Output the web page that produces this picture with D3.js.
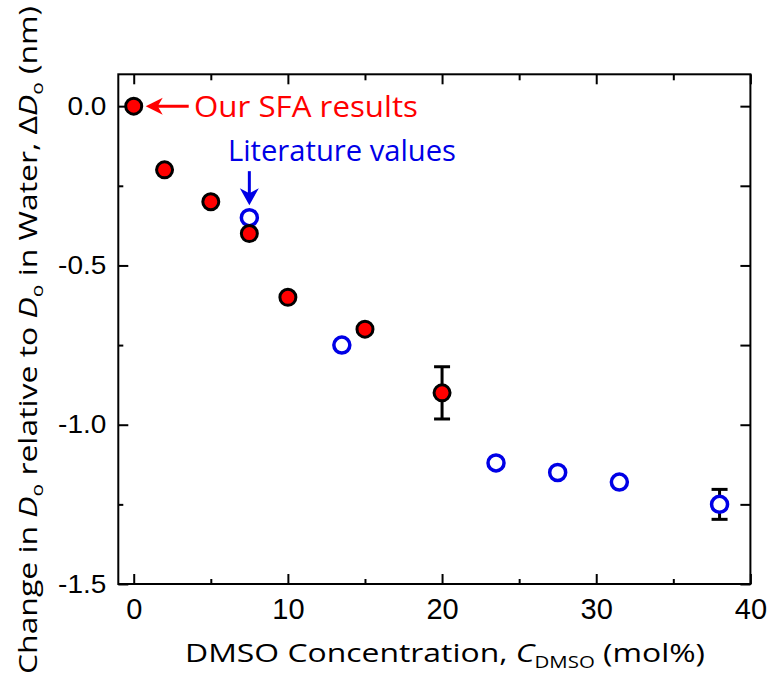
<!DOCTYPE html>
<html><head><meta charset="utf-8">
<script src="https://cdn.jsdelivr.net/npm/d3@7"></script>
<style>body{margin:0;background:#fff}</style>
</head><body><svg id="c" width="773" height="682"></svg>
<script>
// SFA results (filled red)
const sfaX = [0, 2, 5, 7.5, 10, 15, 20];
const sfaY = [0.0, -0.2, -0.3, -0.4, -0.6, -0.7, -0.9];
const sfaErr = [0, 0, 0, 0, 0, 0, 0.082];
// Literature values (open blue)
const litX = [7.5, 13.5, 23.5, 27.5, 31.5, 38];
const litY = [-0.35, -0.75, -1.12, -1.15, -1.18, -1.25];
const litErr = [0, 0, 0, 0, 0, 0.047];
// ticks
const xMajor = [0, 10, 20, 30, 40];
const xMinor = [5, 15, 25, 35];
const yMajor = [0.0, -0.5, -1.0, -1.5];
const yMinor = [-0.25, -0.75, -1.25];

const svg = d3.select("#c");
const L = 118.3, R = 750.4, T = 74.3, B = 584;
const x = d3.scaleLinear().domain([-1, 40]).range([L, R]);
const y = d3.scaleLinear().domain([-1.5, 0.1]).range([B, T]);

const tickFont = "'Liberation Sans', Arial, sans-serif";
const titleFont = "'Open Sans', 'Noto Sans', sans-serif";

function styleAxis(g) {
  g.select(".domain").remove();
  g.selectAll(".tick line").attr("stroke", "#000").attr("stroke-width", 2);
}
// bottom
svg.append("g").attr("transform", `translate(0,${B})`)
  .call(d3.axisBottom(x).tickValues(xMajor).tickSize(-10).tickPadding(14).tickFormat(d => d))
  .call(styleAxis)
  .call(g => g.selectAll("text").attr("font-family", tickFont).attr("font-size", 29).attr("fill", "#000"));
svg.append("g").attr("transform", `translate(0,${B})`)
  .call(d3.axisBottom(x).tickValues(xMinor).tickSize(-5).tickFormat(""))
  .call(styleAxis);
// top
svg.append("g").attr("transform", `translate(0,${T})`)
  .call(d3.axisTop(x).tickValues(xMajor).tickSize(-10).tickFormat(""))
  .call(styleAxis);
svg.append("g").attr("transform", `translate(0,${T})`)
  .call(d3.axisTop(x).tickValues(xMinor).tickSize(-6).tickFormat(""))
  .call(styleAxis);
// left
const sx = 1.12;
svg.append("g").attr("transform", `translate(${L},0)`)
  .call(d3.axisLeft(y).tickValues(yMajor).tickSize(-10).tickPadding(12).tickFormat(d => d.toFixed(1)))
  .call(styleAxis)
  .call(g => g.selectAll("text").attr("font-family", tickFont).attr("font-size", 25).attr("fill", "#000")
    .attr("x", -12 / sx).attr("transform", `scale(${sx},1)`));
svg.append("g").attr("transform", `translate(${L},0)`)
  .call(d3.axisLeft(y).tickValues(yMinor).tickSize(-5).tickFormat(""))
  .call(styleAxis);
// right
svg.append("g").attr("transform", `translate(${R},0)`)
  .call(d3.axisRight(y).tickValues(yMajor.concat(yMinor)).tickSize(-10).tickFormat(""))
  .call(styleAxis);

// frame
svg.append("rect").attr("x", L).attr("y", T).attr("width", R - L).attr("height", B - T)
  .attr("fill", "none").attr("stroke", "#000").attr("stroke-width", 2);

// error bars
const sfa = sfaX.map((v, i) => ({x: v, y: sfaY[i], e: sfaErr[i]}));
const lit = litX.map((v, i) => ({x: v, y: litY[i], e: litErr[i]}));
const errG = svg.append("g").attr("stroke", "#000").attr("stroke-width", 3);
[...sfa, ...lit].filter(d => d.e > 0).forEach(d => {
  errG.append("line").attr("x1", x(d.x)).attr("x2", x(d.x)).attr("y1", y(d.y + d.e)).attr("y2", y(d.y - d.e));
  errG.append("line").attr("x1", x(d.x) - 8).attr("x2", x(d.x) + 8).attr("y1", y(d.y + d.e)).attr("y2", y(d.y + d.e));
  errG.append("line").attr("x1", x(d.x) - 8).attr("x2", x(d.x) + 8).attr("y1", y(d.y - d.e)).attr("y2", y(d.y - d.e));
});

// literature points
svg.append("g").selectAll("circle").data(lit).join("circle")
  .attr("cx", d => x(d.x)).attr("cy", d => y(d.y)).attr("r", 8)
  .attr("fill", "#fff").attr("stroke", "#0000e6").attr("stroke-width", 3.5);
// SFA points
svg.append("g").selectAll("circle").data(sfa).join("circle")
  .attr("cx", d => x(d.x)).attr("cy", d => y(d.y)).attr("r", 8)
  .attr("fill", "#ff0000").attr("stroke", "#000").attr("stroke-width", 3);

// annotations
const red = "#ff0000", blue = "#0000e6";
const ax0 = x(0) + 12, ay0 = y(0);
svg.append("line").attr("x1", ax0 + 8).attr("x2", ax0 + 43).attr("y1", ay0).attr("y2", ay0)
  .attr("stroke", red).attr("stroke-width", 3);
svg.append("path").attr("d", `M${ax0},${ay0} L${ax0 + 17},${ay0 - 8.5} L${ax0 + 12},${ay0} L${ax0 + 17},${ay0 + 8.5} Z`).attr("fill", red);
svg.append("text").attr("x", 194).attr("y", 117).attr("font-family", titleFont).attr("font-size", 29)
  .attr("fill", red).attr("textLength", 224).attr("lengthAdjust", "spacingAndGlyphs").text("Our SFA results");

const bx = x(7.5), by = y(-0.35) - 12.5;
svg.append("line").attr("x1", bx).attr("x2", bx).attr("y1", by - 34).attr("y2", by - 8)
  .attr("stroke", blue).attr("stroke-width", 3);
svg.append("path").attr("d", `M${bx},${by} L${bx - 9.5},${by - 17} L${bx},${by - 12} L${bx + 9.5},${by - 17} Z`).attr("fill", blue);
svg.append("text").attr("x", 228).attr("y", 161).attr("font-family", titleFont).attr("font-size", 29)
  .attr("fill", blue).attr("textLength", 228).attr("lengthAdjust", "spacingAndGlyphs").text("Literature values");

// x title
const xt = svg.append("text").attr("x", 185).attr("y", 662).attr("font-family", titleFont)
  .attr("font-size", 25).attr("fill", "#000").attr("textLength", 520).attr("lengthAdjust", "spacingAndGlyphs");
xt.append("tspan").text("DMSO Concentration, ");
xt.append("tspan").attr("font-style", "italic").text("C");
xt.append("tspan").attr("font-size", 16).attr("dy", 6).text("DMSO");
xt.append("tspan").attr("dy", -6).text(" (mol%)");

// y title
const yt = svg.append("text").attr("transform", "translate(37,340) rotate(-90)").attr("text-anchor", "middle")
  .attr("font-family", titleFont).attr("font-size", 26).attr("fill", "#000")
  .attr("textLength", 668).attr("lengthAdjust", "spacingAndGlyphs");
yt.append("tspan").text("Change in ");
yt.append("tspan").attr("font-style", "italic").text("D");
yt.append("tspan").attr("font-size", 17).attr("dy", 6).text("o");
yt.append("tspan").attr("dy", -6).text(" relative to ");
yt.append("tspan").attr("font-style", "italic").text("D");
yt.append("tspan").attr("font-size", 17).attr("dy", 6).text("o");
yt.append("tspan").attr("dy", -6).text(" in Water, Δ");
yt.append("tspan").attr("font-style", "italic").text("D");
yt.append("tspan").attr("font-size", 17).attr("dy", 6).text("o");
yt.append("tspan").attr("dy", -6).text(" (nm)");
</script></body></html>
